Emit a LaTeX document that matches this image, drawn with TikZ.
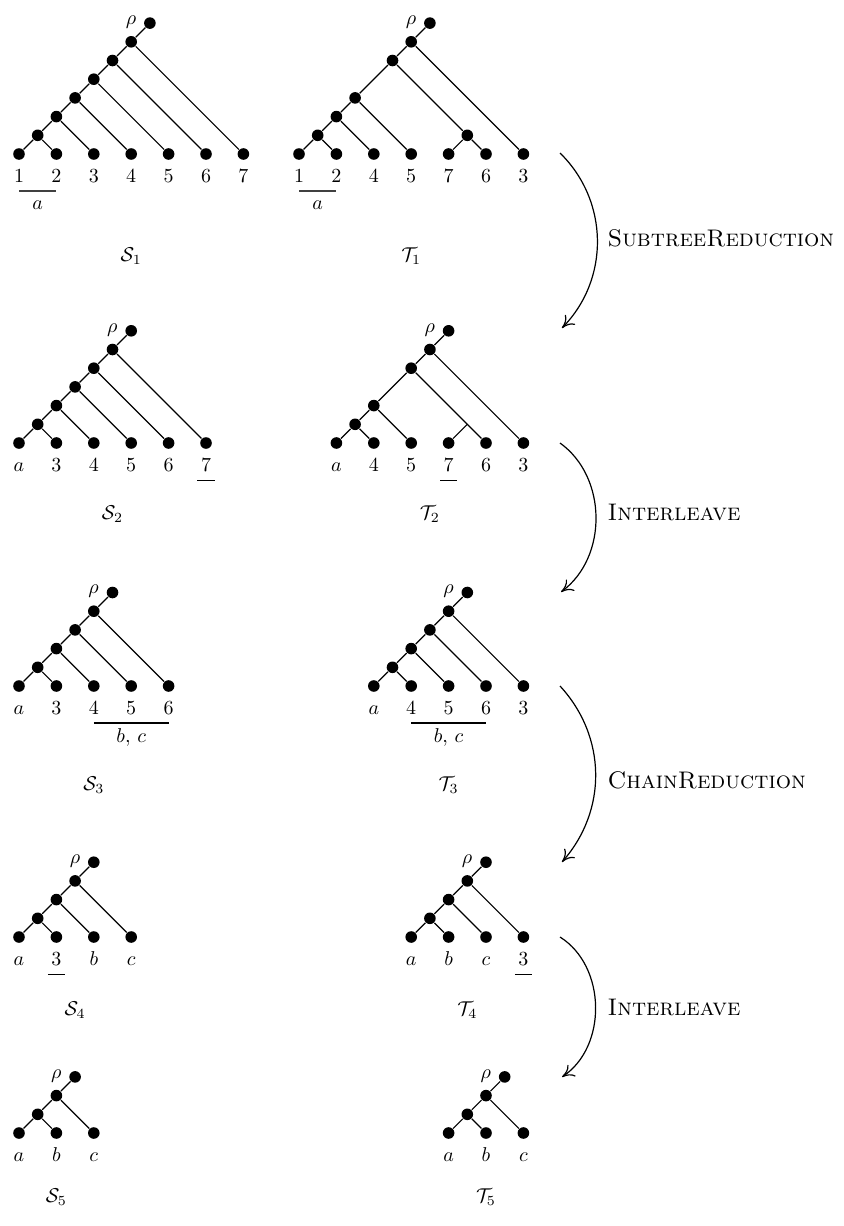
\documentclass[tikz,border=0pt]{standalone}
\usetikzlibrary{arrows.meta}

\tikzset{
  dot/.style={circle, fill=black, inner sep=0pt, minimum size=5.8pt},
  leaflab/.style={anchor=base, inner sep=0pt},
  caplab/.style={inner sep=0pt},
  rholab/.style={anchor=east, yshift=0.5pt},
  opline/.style={->, >={Computer Modern Rightarrow[length=6pt,width=7pt]}},
  oplab/.style={anchor=west, inner sep=0pt, font=\large\scshape}
}

\begin{document}
\begin{tikzpicture}[line width=0.6pt]
    \useasboundingbox (0,0) rectangle (421.5pt,-613pt);

    % S_1
    \begin{scope}[shift={(9.5pt,-77pt)}, x=18.7pt, y=18.7pt]
    \node[dot] (s1l1) at (0,0) {}; \node[dot] (s1l2) at (1,0) {}; \node[dot] (s1l3) at (2,0) {};
    \node[dot] (s1l4) at (3,0) {}; \node[dot] (s1l5) at (4,0) {}; \node[dot] (s1l6) at (5,0) {};
    \node[dot] (s1l7) at (6,0) {};
    \node[dot] (s1c2) at (0.5,0.5) {}; \node[dot] (s1c3) at (1,1) {}; \node[dot] (s1c4) at (1.5,1.5) {};
    \node[dot] (s1c5) at (2,2) {}; \node[dot] (s1c6) at (2.5,2.5) {}; \node[dot] (s1c7) at (3,3) {};
    \node[dot] (s1r) at (3.5,3.5) {};
    \node[rholab] (s1rho) at (s1r.west) {$\rho$};
    \draw (s1r) -- (s1c7) -- (s1c6) -- (s1c5) -- (s1c4) -- (s1c3) -- (s1c2) -- (s1l1);
    \draw (s1c2) -- (s1l2); \draw (s1c3) -- (s1l3); \draw (s1c4) -- (s1l4);
    \draw (s1c5) -- (s1l5); \draw (s1c6) -- (s1l6); \draw (s1c7) -- (s1l7);
    \node[leaflab] (s1n1) at (0,-0.775) {$1$}; \node[leaflab] (s1n2) at (1,-0.775) {$2$};
    \node[leaflab] (s1n3) at (2,-0.775) {$3$}; \node[leaflab] (s1n4) at (3,-0.775) {$4$};
    \node[leaflab] (s1n5) at (4,-0.775) {$5$}; \node[leaflab] (s1n6) at (5,-0.775) {$6$};
    \node[leaflab] (s1n7) at (6,-0.775) {$7$};
    \coordinate (s1u1) at (0,-0.99); \coordinate (s1u2) at (1,-0.99);
    \draw[black!75] (s1u1) -- (s1u2);
    \node[caplab] (s1sub) at (0.5,-1.364) {$a$};
    \node[caplab] (s1cap) at (3,-2.73) {$\mathcal{S}_1$};
    \end{scope}

    % T_1
    \begin{scope}[shift={(149.5pt,-77pt)}, x=18.7pt, y=18.7pt]
    \node[dot] (t1l1) at (0,0) {}; \node[dot] (t1l2) at (1,0) {}; \node[dot] (t1l4) at (2,0) {};
    \node[dot] (t1l5) at (3,0) {}; \node[dot] (t1l7) at (4,0) {}; \node[dot] (t1l6) at (5,0) {};
    \node[dot] (t1l3) at (6,0) {};
    \node[dot] (t1a) at (0.5,0.5) {}; \node[dot] (t1b) at (1,1) {}; \node[dot] (t1c) at (1.5,1.5) {};
    \node[dot] (t1d) at (4.5,0.5) {}; \node[dot] (t1e) at (2.5,2.5) {}; \node[dot] (t1f) at (3,3) {};
    \node[dot] (t1r) at (3.5,3.5) {};
    \node[rholab] (t1rho) at (t1r.west) {$\rho$};
    \draw (t1r) -- (t1f) -- (t1e) -- (t1c) -- (t1b) -- (t1a) -- (t1l1);
    \draw (t1a) -- (t1l2); \draw (t1b) -- (t1l4); \draw (t1c) -- (t1l5);
    \draw (t1e) -- (t1d) -- (t1l7); \draw (t1d) -- (t1l6); \draw (t1f) -- (t1l3);
    \node[leaflab] (t1n1) at (0,-0.775) {$1$}; \node[leaflab] (t1n2) at (1,-0.775) {$2$};
    \node[leaflab] (t1n4) at (2,-0.775) {$4$}; \node[leaflab] (t1n5) at (3,-0.775) {$5$};
    \node[leaflab] (t1n7) at (4,-0.775) {$7$}; \node[leaflab] (t1n6) at (5,-0.775) {$6$};
    \node[leaflab] (t1n3) at (6,-0.775) {$3$};
    \coordinate (t1u1) at (0,-0.99); \coordinate (t1u2) at (1,-0.99);
    \draw[black!75] (t1u1) -- (t1u2);
    \node[caplab] (t1sub) at (0.5,-1.364) {$a$};
    \node[caplab] (t1cap) at (3,-2.73) {$\mathcal{T}_1$};
    \end{scope}

    % S_2
    \begin{scope}[shift={(9.5pt,-221.5pt)}, x=18.7pt, y=18.7pt]
    \node[dot] (s2la) at (0,0) {}; \node[dot] (s2l3) at (1,0) {}; \node[dot] (s2l4) at (2,0) {};
    \node[dot] (s2l5) at (3,0) {}; \node[dot] (s2l6) at (4,0) {}; \node[dot] (s2l7) at (5,0) {};
    \node[dot] (s2c2) at (0.5,0.5) {}; \node[dot] (s2c3) at (1,1) {}; \node[dot] (s2c4) at (1.5,1.5) {};
    \node[dot] (s2c5) at (2,2) {}; \node[dot] (s2c6) at (2.5,2.5) {};
    \node[dot] (s2r) at (3,3) {};
    \node[rholab] (s2rho) at (s2r.west) {$\rho$};
    \draw (s2r) -- (s2c6) -- (s2c5) -- (s2c4) -- (s2c3) -- (s2c2) -- (s2la);
    \draw (s2c2) -- (s2l3); \draw (s2c3) -- (s2l4); \draw (s2c4) -- (s2l5);
    \draw (s2c5) -- (s2l6); \draw (s2c6) -- (s2l7);
    \node[leaflab] (s2na) at (0,-0.775) {$a$}; \node[leaflab] (s2n3) at (1,-0.775) {$3$};
    \node[leaflab] (s2n4) at (2,-0.775) {$4$}; \node[leaflab] (s2n5) at (3,-0.775) {$5$};
    \node[leaflab] (s2n6) at (4,-0.775) {$6$}; \node[leaflab] (s2n7) at (5,-0.775) {$7$};
    \coordinate (s2u1) at (4.77,-1.0); \coordinate (s2u2) at (5.23,-1.0);
    \draw (s2u1) -- (s2u2);
    \node[caplab] (s2cap) at (2.5,-1.9) {$\mathcal{S}_2$};
    \end{scope}

    % T_2
    \begin{scope}[shift={(168.2pt,-221.5pt)}, x=18.7pt, y=18.7pt]
    \node[dot] (t2la) at (0,0) {}; \node[dot] (t2l4) at (1,0) {}; \node[dot] (t2l5) at (2,0) {};
    \node[dot] (t2l7) at (3,0) {}; \node[dot] (t2l6) at (4,0) {}; \node[dot] (t2l3) at (5,0) {};
    \node[dot] (t2a) at (0.5,0.5) {}; \node[dot] (t2b) at (1,1) {};
    \coordinate (t2j) at (3.5,0.5);
    \node[dot] (t2d) at (2,2) {}; \node[dot] (t2e) at (2.5,2.5) {};
    \node[dot] (t2r) at (3,3) {};
    \node[rholab] (t2rho) at (t2r.west) {$\rho$};
    \draw (t2r) -- (t2e) -- (t2d) -- (t2b) -- (t2a) -- (t2la);
    \draw (t2a) -- (t2l4); \draw (t2b) -- (t2l5);
    \draw (t2d) -- (t2l6); \draw (t2j) -- (t2l7); \draw (t2e) -- (t2l3);
    \node[leaflab] (t2na) at (0,-0.775) {$a$}; \node[leaflab] (t2n4) at (1,-0.775) {$4$};
    \node[leaflab] (t2n5) at (2,-0.775) {$5$}; \node[leaflab] (t2n7) at (3,-0.775) {$7$};
    \node[leaflab] (t2n6) at (4,-0.775) {$6$}; \node[leaflab] (t2n3) at (5,-0.775) {$3$};
    \coordinate (t2u1) at (2.77,-1.0); \coordinate (t2u2) at (3.23,-1.0);
    \draw (t2u1) -- (t2u2);
    \node[caplab] (t2cap) at (2.5,-1.9) {$\mathcal{T}_2$};
    \end{scope}

    % S_3
    \begin{scope}[shift={(9.5pt,-343pt)}, x=18.7pt, y=18.7pt]
    \node[dot] (s3la) at (0,0) {}; \node[dot] (s3l3) at (1,0) {}; \node[dot] (s3l4) at (2,0) {};
    \node[dot] (s3l5) at (3,0) {}; \node[dot] (s3l6) at (4,0) {};
    \node[dot] (s3c2) at (0.5,0.5) {}; \node[dot] (s3c3) at (1,1) {}; \node[dot] (s3c4) at (1.5,1.5) {};
    \node[dot] (s3c5) at (2,2) {};
    \node[dot] (s3r) at (2.5,2.5) {};
    \node[rholab] (s3rho) at (s3r.west) {$\rho$};
    \draw (s3r) -- (s3c5) -- (s3c4) -- (s3c3) -- (s3c2) -- (s3la);
    \draw (s3c2) -- (s3l3); \draw (s3c3) -- (s3l4); \draw (s3c4) -- (s3l5); \draw (s3c5) -- (s3l6);
    \node[leaflab] (s3na) at (0,-0.775) {$a$}; \node[leaflab] (s3n3) at (1,-0.775) {$3$};
    \node[leaflab] (s3n4) at (2,-0.775) {$4$}; \node[leaflab] (s3n5) at (3,-0.775) {$5$};
    \node[leaflab] (s3n6) at (4,-0.775) {$6$};
    \coordinate (s3u1) at (2,-0.99); \coordinate (s3u2) at (4,-0.99);
    \draw (s3u1) -- (s3u2);
    \node[caplab] (s3sub) at (3,-1.364) {$b,\,c$};
    \node[caplab] (s3cap) at (2,-2.65) {$\mathcal{S}_3$};
    \end{scope}

    % T_3
    \begin{scope}[shift={(186.9pt,-343pt)}, x=18.7pt, y=18.7pt]
    \node[dot] (t3la) at (0,0) {}; \node[dot] (t3l4) at (1,0) {}; \node[dot] (t3l5) at (2,0) {};
    \node[dot] (t3l6) at (3,0) {}; \node[dot] (t3l3) at (4,0) {};
    \node[dot] (t3c2) at (0.5,0.5) {}; \node[dot] (t3c3) at (1,1) {}; \node[dot] (t3c4) at (1.5,1.5) {};
    \node[dot] (t3c5) at (2,2) {};
    \node[dot] (t3r) at (2.5,2.5) {};
    \node[rholab] (t3rho) at (t3r.west) {$\rho$};
    \draw (t3r) -- (t3c5) -- (t3c4) -- (t3c3) -- (t3c2) -- (t3la);
    \draw (t3c2) -- (t3l4); \draw (t3c3) -- (t3l5); \draw (t3c4) -- (t3l6); \draw (t3c5) -- (t3l3);
    \node[leaflab] (t3na) at (0,-0.775) {$a$}; \node[leaflab] (t3n4) at (1,-0.775) {$4$};
    \node[leaflab] (t3n5) at (2,-0.775) {$5$}; \node[leaflab] (t3n6) at (3,-0.775) {$6$};
    \node[leaflab] (t3n3) at (4,-0.775) {$3$};
    \coordinate (t3u1) at (1,-0.99); \coordinate (t3u2) at (3,-0.99);
    \draw (t3u1) -- (t3u2);
    \node[caplab] (t3sub) at (2,-1.364) {$b,\,c$};
    \node[caplab] (t3cap) at (2,-2.65) {$\mathcal{T}_3$};
    \end{scope}

    % S_4
    \begin{scope}[shift={(9.5pt,-468.5pt)}, x=18.7pt, y=18.7pt]
    \node[dot] (s4la) at (0,0) {}; \node[dot] (s4l3) at (1,0) {}; \node[dot] (s4lb) at (2,0) {};
    \node[dot] (s4lc) at (3,0) {};
    \node[dot] (s4c2) at (0.5,0.5) {}; \node[dot] (s4c3) at (1,1) {}; \node[dot] (s4c4) at (1.5,1.5) {};
    \node[dot] (s4r) at (2,2) {};
    \node[rholab] (s4rho) at (s4r.west) {$\rho$};
    \draw (s4r) -- (s4c4) -- (s4c3) -- (s4c2) -- (s4la);
    \draw (s4c2) -- (s4l3); \draw (s4c3) -- (s4lb); \draw (s4c4) -- (s4lc);
    \node[leaflab] (s4na) at (0,-0.775) {$a$}; \node[leaflab] (s4n3) at (1,-0.775) {$3$};
    \node[leaflab] (s4nb) at (2,-0.775) {$b$}; \node[leaflab] (s4nc) at (3,-0.775) {$c$};
    \coordinate (s4u1) at (0.77,-1.0); \coordinate (s4u2) at (1.23,-1.0);
    \draw (s4u1) -- (s4u2);
    \node[caplab] (s4cap) at (1.5,-1.95) {$\mathcal{S}_4$};
    \end{scope}

    % T_4
    \begin{scope}[shift={(205.6pt,-468.5pt)}, x=18.7pt, y=18.7pt]
    \node[dot] (t4la) at (0,0) {}; \node[dot] (t4lb) at (1,0) {}; \node[dot] (t4lc) at (2,0) {};
    \node[dot] (t4l3) at (3,0) {};
    \node[dot] (t4c2) at (0.5,0.5) {}; \node[dot] (t4c3) at (1,1) {}; \node[dot] (t4c4) at (1.5,1.5) {};
    \node[dot] (t4r) at (2,2) {};
    \node[rholab] (t4rho) at (t4r.west) {$\rho$};
    \draw (t4r) -- (t4c4) -- (t4c3) -- (t4c2) -- (t4la);
    \draw (t4c2) -- (t4lb); \draw (t4c3) -- (t4lc); \draw (t4c4) -- (t4l3);
    \node[leaflab] (t4na) at (0,-0.775) {$a$}; \node[leaflab] (t4nb) at (1,-0.775) {$b$};
    \node[leaflab] (t4nc) at (2,-0.775) {$c$}; \node[leaflab] (t4n3) at (3,-0.775) {$3$};
    \coordinate (t4u1) at (2.77,-1.0); \coordinate (t4u2) at (3.23,-1.0);
    \draw (t4u1) -- (t4u2);
    \node[caplab] (t4cap) at (1.5,-1.95) {$\mathcal{T}_4$};
    \end{scope}

    % S_5
    \begin{scope}[shift={(9.5pt,-566.5pt)}, x=18.7pt, y=18.7pt]
    \node[dot] (s5la) at (0,0) {}; \node[dot] (s5lb) at (1,0) {}; \node[dot] (s5lc) at (2,0) {};
    \node[dot] (s5c2) at (0.5,0.5) {}; \node[dot] (s5c3) at (1,1) {};
    \node[dot] (s5r) at (1.5,1.5) {};
    \node[rholab] (s5rho) at (s5r.west) {$\rho$};
    \draw (s5r) -- (s5c3) -- (s5c2) -- (s5la);
    \draw (s5c2) -- (s5lb); \draw (s5c3) -- (s5lc);
    \node[leaflab] (s5na) at (0,-0.775) {$a$}; \node[leaflab] (s5nb) at (1,-0.775) {$b$};
    \node[leaflab] (s5nc) at (2,-0.775) {$c$};
    \node[caplab] (s5cap) at (1,-1.71) {$\mathcal{S}_5$};
    \end{scope}

    % T_5
    \begin{scope}[shift={(224.3pt,-566.5pt)}, x=18.7pt, y=18.7pt]
    \node[dot] (t5la) at (0,0) {}; \node[dot] (t5lb) at (1,0) {}; \node[dot] (t5lc) at (2,0) {};
    \node[dot] (t5c2) at (0.5,0.5) {}; \node[dot] (t5c3) at (1,1) {};
    \node[dot] (t5r) at (1.5,1.5) {};
    \node[rholab] (t5rho) at (t5r.west) {$\rho$};
    \draw (t5r) -- (t5c3) -- (t5c2) -- (t5la);
    \draw (t5c2) -- (t5lb); \draw (t5c3) -- (t5lc);
    \node[leaflab] (t5na) at (0,-0.775) {$a$}; \node[leaflab] (t5nb) at (1,-0.775) {$b$};
    \node[leaflab] (t5nc) at (2,-0.775) {$c$};
    \node[caplab] (t5cap) at (1,-1.71) {$\mathcal{T}_5$};
    \end{scope}

    % reduction steps
    \coordinate (op1a) at (280pt,-76.5pt);  \coordinate (op1b) at (281pt,-164pt);
    \coordinate (op2a) at (280pt,-221.5pt); \coordinate (op2b) at (280.5pt,-296pt);
    \coordinate (op3a) at (280pt,-343pt);   \coordinate (op3b) at (281pt,-431pt);
    \coordinate (op4a) at (280pt,-468.5pt); \coordinate (op4b) at (281pt,-538.5pt);
    \draw[opline] (op1a) to[bend left=45] (op1b);
    \draw[opline] (op2a) to[bend left=54] (op2b);
    \draw[opline] (op3a) to[bend left=42] (op3b);
    \draw[opline] (op4a) to[bend left=57] (op4b);
    \node[oplab] (op1) at (303.5pt,-119pt) {SubtreeReduction};
    \node[oplab] (op2) at (303.5pt,-256pt) {Interleave};
    \node[oplab] (op3) at (303.5pt,-390pt) {ChainReduction};
    \node[oplab] (op4) at (303.5pt,-503.5pt) {Interleave};
\end{tikzpicture}
\end{document}
